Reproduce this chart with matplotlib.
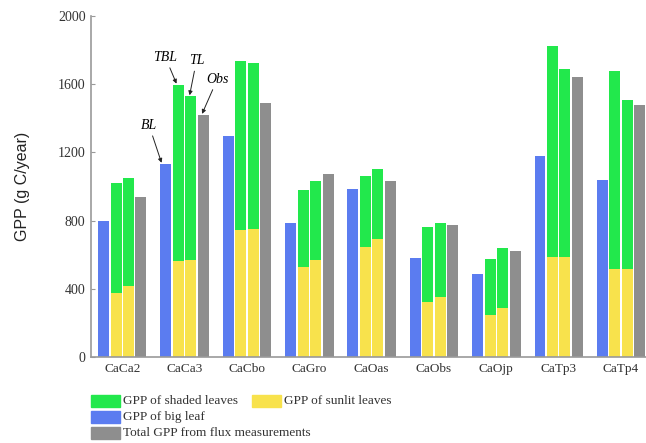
import numpy as np
import matplotlib
matplotlib.use("Agg")
import matplotlib.pyplot as plt
from matplotlib.patches import Rectangle

# Annual GPP per site (g C/year)
sites = ["CaCa2", "CaCa3", "CaCbo", "CaGro", "CaOas", "CaObs", "CaOjp", "CaTp3", "CaTp4"]
big_leaf = [800, 1134, 1294, 788, 984, 581, 487, 1177, 1041]
tbl_sunlit = [378, 563, 745, 530, 647, 320, 244, 589, 519]
tbl_total = [1021, 1598, 1735, 979, 1060, 764, 577, 1821, 1680]
tl_sunlit = [415, 567, 752, 567, 694, 351, 287, 589, 519]
tl_total = [1047, 1530, 1727, 1035, 1105, 784, 637, 1690, 1505]
observed = [940, 1421, 1489, 1072, 1035, 776, 624, 1641, 1480]

c_shaded = "#22e84c"
c_sunlit = "#f8e24c"
c_big = "#5b7cf0"
c_obs = "#8e8e8e"

serif = ["Liberation Serif", "DejaVu Serif"]

fig = plt.figure(figsize=(6.46, 4.43), dpi=100)
ax = fig.add_axes([0.141, 0.194, 0.859, 0.770])

x = np.arange(len(sites))
w = 0.176
tbl_shaded = np.array(tbl_total) - np.array(tbl_sunlit)
tl_shaded = np.array(tl_total) - np.array(tl_sunlit)

ax.bar(x - 0.3, big_leaf, w, color=c_big)
ax.bar(x - 0.1, tbl_sunlit, w, color=c_sunlit)
ax.bar(x - 0.1, tbl_shaded, w, bottom=tbl_sunlit, color=c_shaded)
ax.bar(x + 0.1, tl_sunlit, w, color=c_sunlit)
ax.bar(x + 0.1, tl_shaded, w, bottom=tl_sunlit, color=c_shaded)
ax.bar(x + 0.3, observed, w, color=c_obs)

ax.set_xlim(-0.5, 8.4)
ax.set_ylim(0, 2000)
ax.set_yticks([0, 400, 800, 1200, 1600, 2000])
ax.set_xticks(x)
ax.set_xticklabels(sites, family=serif, fontsize=9.5, color="#333333")
for lbl in ax.get_yticklabels():
    lbl.set_family(serif)
    lbl.set_fontsize(10)
    lbl.set_color("#333333")
ax.tick_params(axis="y", direction="in", length=3, color="#999999", pad=4)
ax.tick_params(axis="x", length=0, pad=4)
for s in ["top", "right"]:
    ax.spines[s].set_visible(False)
for s in ["left", "bottom"]:
    ax.spines[s].set_color("#999999")
    ax.spines[s].set_linewidth(1.2)
ax.set_ylabel("GPP (g C/year)", fontsize=11.5, family="Liberation Sans",
              color="#222222", labelpad=20)

# labels for the four bars of CaCa3
arrow = dict(arrowstyle="-|>", color="#222222", lw=0.7, mutation_scale=6, shrinkA=1, shrinkB=0)
note = dict(fontsize=10, style="italic", family=serif, ha="center", va="center",
            textcoords="offset points", arrowprops=arrow)
ax.annotate("BL", xy=(1 - 0.37, big_leaf[1] + 5), xytext=(-9, 27), **note)
ax.annotate("TBL", xy=(1 - 0.13, tbl_total[1] + 5), xytext=(-8, 19), **note)
ax.annotate("TL", xy=(1 + 0.08, tl_total[1] + 5), xytext=(5, 25), **note)
ax.annotate("Obs", xy=(1 + 0.28, observed[1] + 5), xytext=(11, 25), **note)

# legend below the plot
W, H = 646, 443
items = [
    (91, 395, c_shaded, "GPP of shaded leaves"),
    (252, 395, c_sunlit, "GPP of sunlit leaves"),
    (91, 411, c_big, "GPP of big leaf"),
    (91, 427, c_obs, "Total GPP from flux measurements"),
]
for px, py, col, txt in items:
    fig.patches.append(Rectangle((px / W, 1 - (py + 12) / H), 29 / W, 12 / H,
                                 transform=fig.transFigure, color=col))
    fig.text((px + 32) / W, 1 - (py + 6) / H, txt, family=serif, fontsize=9.5,
             color="#333333", va="center", ha="left")

fig.savefig("out.png", dpi=100)
